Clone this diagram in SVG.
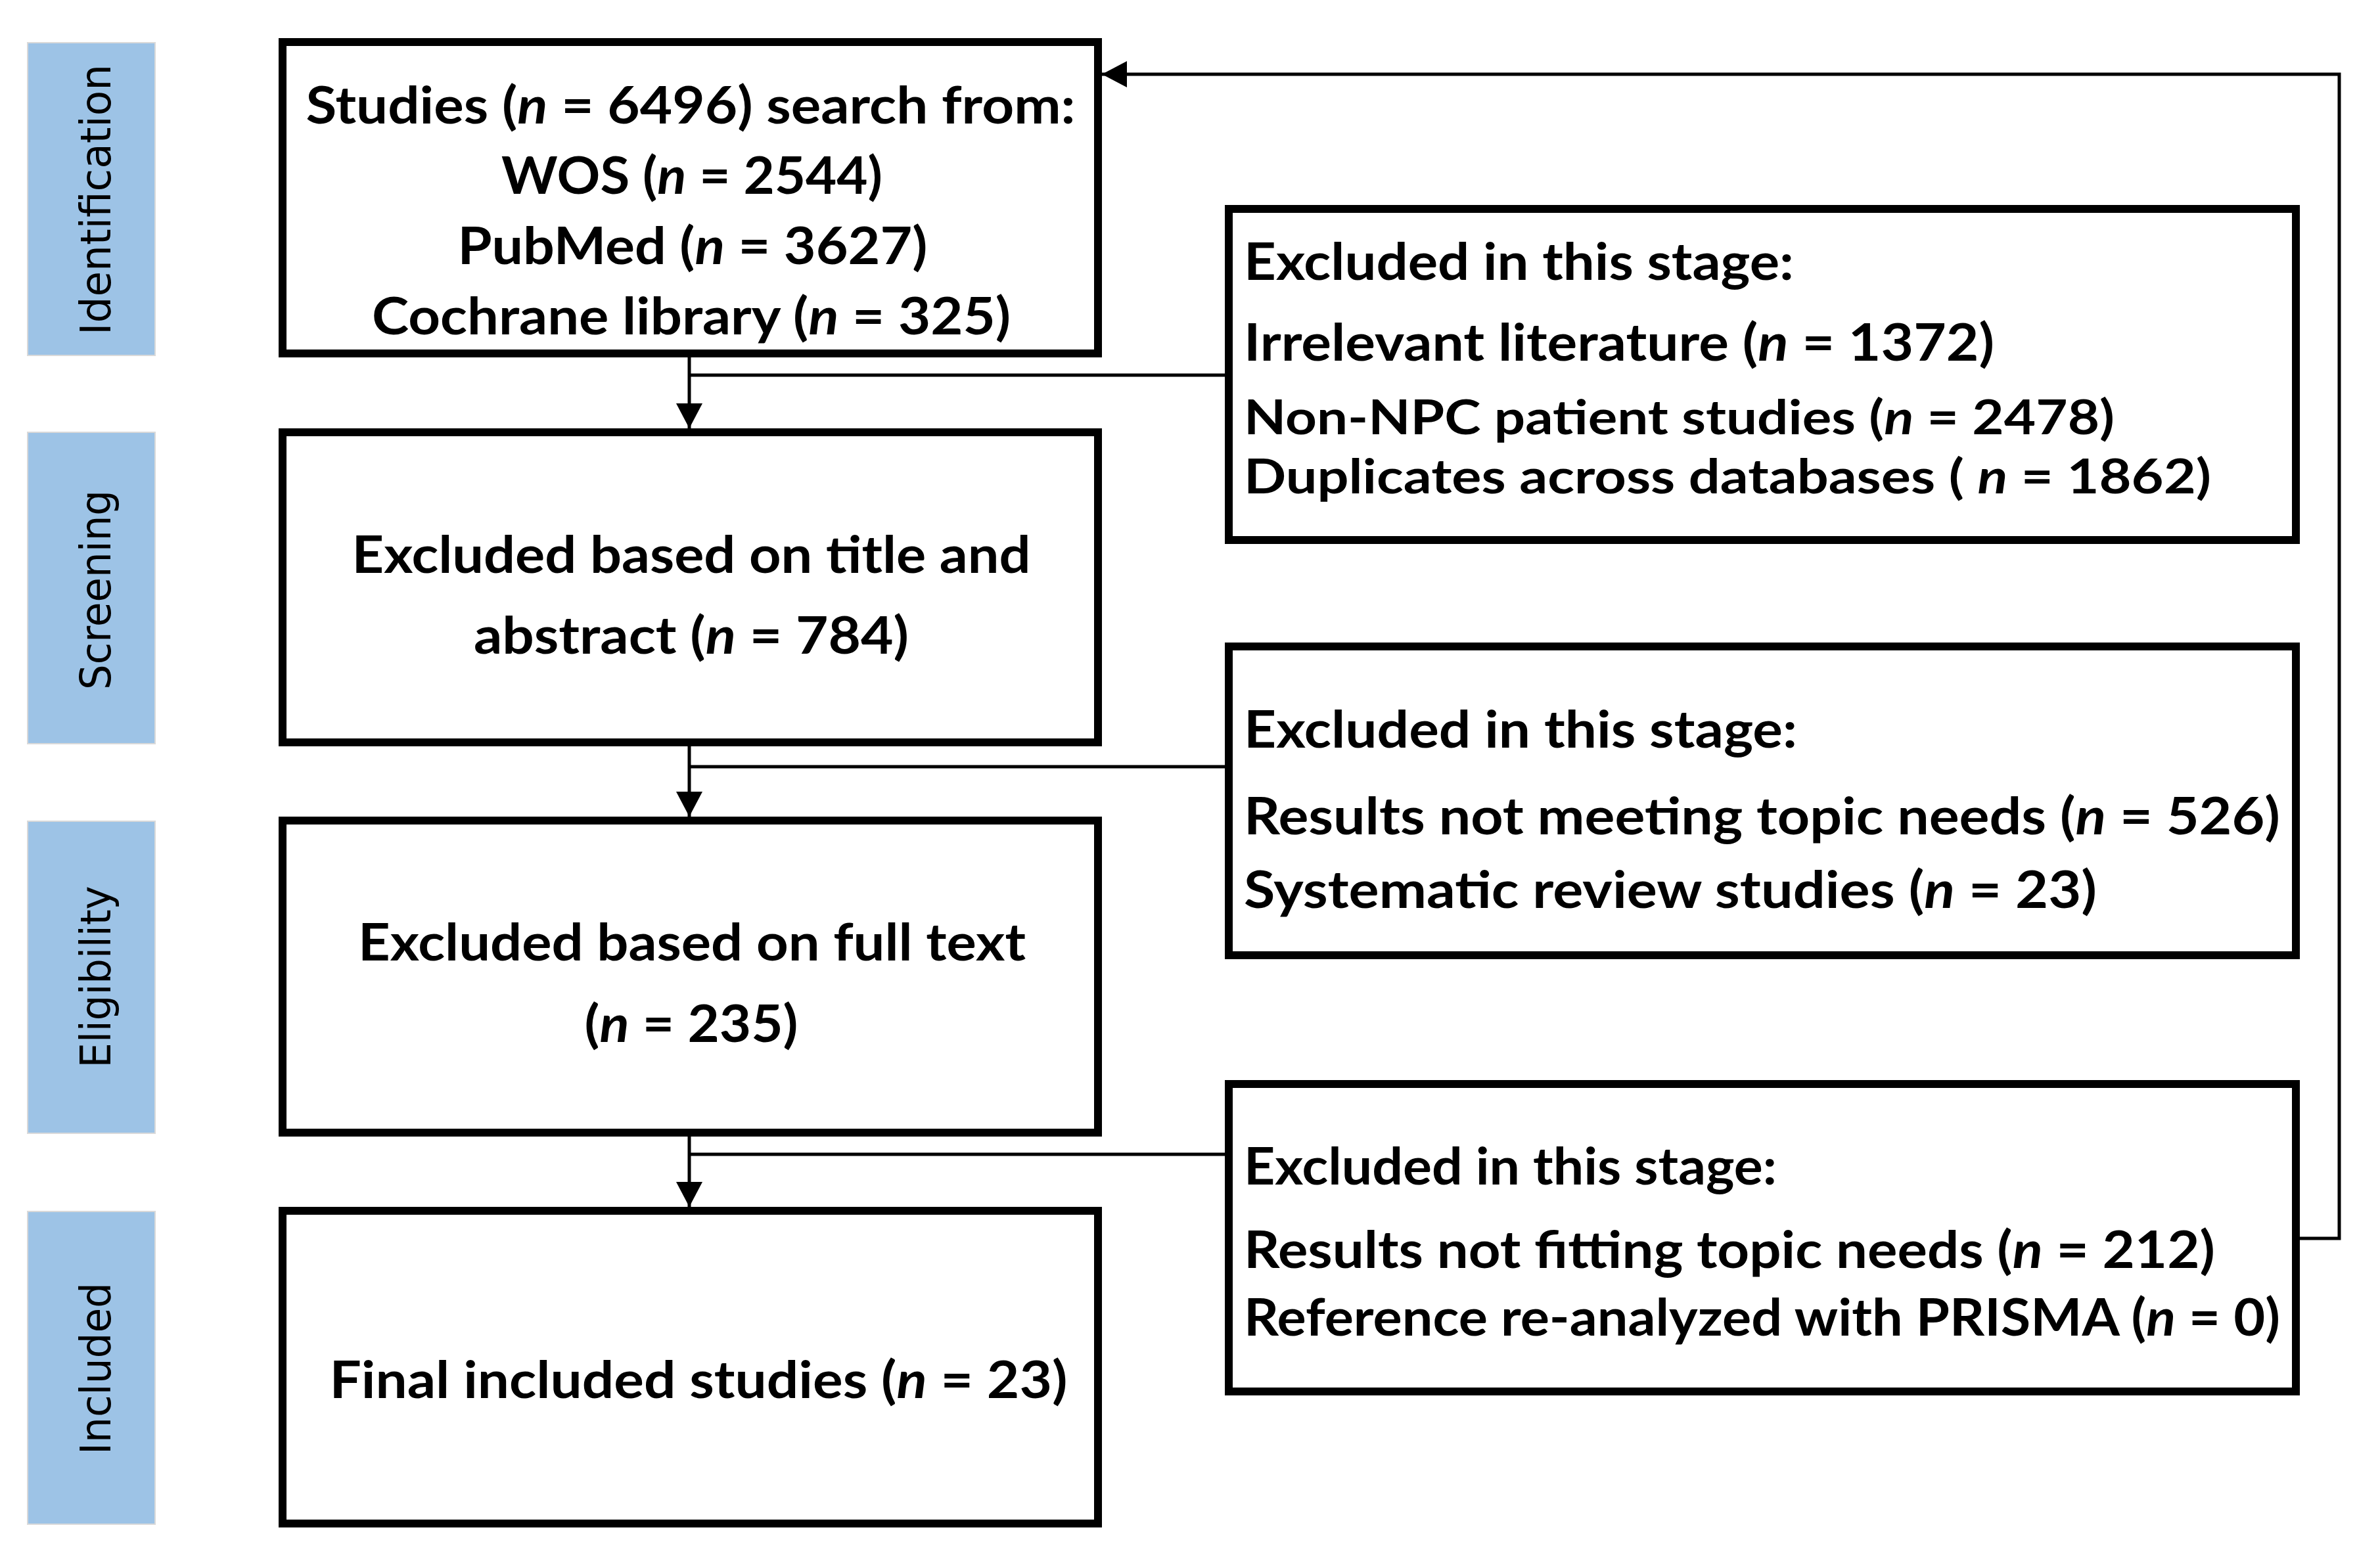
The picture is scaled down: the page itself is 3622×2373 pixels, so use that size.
<svg xmlns="http://www.w3.org/2000/svg" width="3622" height="2373" viewBox="0 0 3622 2373">
<style>
.bar{fill:#9DC3E6;stroke:#D9D9D9;stroke-width:2}
.lbl{font-family:"DejaVu Sans",Verdana,sans-serif;font-size:64px;fill:#000;text-anchor:middle}
.box{fill:#fff;stroke:#000;stroke-width:12}
.t{font-family:Lato,"Open Sans","Liberation Sans",sans-serif;font-weight:bold;font-size:79px;fill:#000}
.s{font-size:73px}
.c{text-anchor:middle}
.i{font-style:italic}
.ln{fill:none;stroke:#000;stroke-width:5}
</style>
<defs>
<marker id="arr" viewBox="0 0 38 40" refX="38" refY="20" markerWidth="38" markerHeight="40" orient="auto" markerUnits="userSpaceOnUse">
<path d="M0,0 L38,20 L0,40 z" fill="#000"/>
</marker>
</defs>
<rect width="3622" height="2373" fill="#fff"/>

<g id="stage-identification">
<rect class="bar" x="42" y="65" width="194" height="476"/>
<text class="lbl" transform="translate(168,304) rotate(-90)" textLength="412" lengthAdjust="spacingAndGlyphs">Identification</text>
</g>
<g id="stage-screening">
<rect class="bar" x="42" y="658" width="194" height="474"/>
<text class="lbl" transform="translate(168,898) rotate(-90)" textLength="304" lengthAdjust="spacingAndGlyphs">Screening</text>
</g>
<g id="stage-eligibility">
<rect class="bar" x="42" y="1250" width="194" height="475"/>
<text class="lbl" transform="translate(168,1487) rotate(-90)" textLength="277" lengthAdjust="spacingAndGlyphs">Eligibility</text>
</g>
<g id="stage-included">
<rect class="bar" x="42" y="1844" width="194" height="476"/>
<text class="lbl" transform="translate(168,2083) rotate(-90)" textLength="262" lengthAdjust="spacingAndGlyphs">Included</text>
</g>

<g id="node-search">
<rect class="box" x="430" y="64" width="1241" height="474"/>
<text class="t c" x="1051" y="188" textLength="1171" lengthAdjust="spacingAndGlyphs">Studies (<tspan class="i">n</tspan> = 6496) search from:</text>
<text class="t c" x="1053" y="295" textLength="580" lengthAdjust="spacingAndGlyphs">WOS (<tspan class="i">n</tspan> = 2544)</text>
<text class="t c" x="1054" y="402" textLength="715" lengthAdjust="spacingAndGlyphs">PubMed (<tspan class="i">n</tspan> = 3627)</text>
<text class="t c" x="1052" y="509" textLength="972" lengthAdjust="spacingAndGlyphs">Cochrane library (<tspan class="i">n</tspan> = 325)</text>
</g>

<g id="node-screening">
<rect class="box" x="430" y="658" width="1241" height="472"/>
<text class="t c" x="1052" y="872" textLength="1033" lengthAdjust="spacingAndGlyphs">Excluded based on title and</text>
<text class="t c" x="1052" y="995" textLength="662" lengthAdjust="spacingAndGlyphs">abstract (<tspan class="i">n</tspan> = 784)</text>
</g>

<g id="node-eligibility">
<rect class="box" x="430" y="1249" width="1241" height="475"/>
<text class="t c" x="1053" y="1462" textLength="1016" lengthAdjust="spacingAndGlyphs">Excluded based on full text</text>
<text class="t c" x="1052" y="1586" textLength="325" lengthAdjust="spacingAndGlyphs">(<tspan class="i">n</tspan> = 235)</text>
</g>

<g id="node-included">
<rect class="box" x="430" y="1843" width="1241" height="476"/>
<text class="t c" x="1063" y="2128" textLength="1123" lengthAdjust="spacingAndGlyphs">Final included studies (<tspan class="i">n</tspan> = 23)</text>
</g>

<g id="node-excluded-1">
<rect class="box" x="1870" y="318" width="1624" height="504"/>
<text class="t" x="1893" y="426" textLength="837" lengthAdjust="spacingAndGlyphs">Excluded in this stage:</text>
<text class="t" x="1893" y="549" textLength="1142" lengthAdjust="spacingAndGlyphs">Irrelevant literature (<tspan class="i">n</tspan> = 1372)</text>
<text class="t s" x="1893" y="661" textLength="1325" lengthAdjust="spacingAndGlyphs">Non-NPC patient studies (<tspan class="i">n</tspan> = 2478)</text>
<text class="t s" x="1893" y="751" textLength="1472" lengthAdjust="spacingAndGlyphs">Duplicates across databases ( <tspan class="i">n</tspan> = 1862)</text>
</g>

<g id="node-excluded-2">
<rect class="box" x="1870" y="984" width="1624" height="470"/>
<text class="t" x="1893" y="1138" textLength="842" lengthAdjust="spacingAndGlyphs">Excluded in this stage:</text>
<text class="t" x="1893" y="1270" textLength="1577" lengthAdjust="spacingAndGlyphs">Results not meeting topic needs (<tspan class="i">n</tspan> = 526)</text>
<text class="t" x="1893" y="1382" textLength="1298" lengthAdjust="spacingAndGlyphs">Systematic review studies (<tspan class="i">n</tspan> = 23)</text>
</g>

<g id="node-excluded-3">
<rect class="box" x="1870" y="1650" width="1624" height="468"/>
<text class="t" x="1893" y="1803" textLength="811" lengthAdjust="spacingAndGlyphs">Excluded in this stage:</text>
<text class="t" x="1893" y="1930" textLength="1478" lengthAdjust="spacingAndGlyphs">Results not fitting topic needs (<tspan class="i">n</tspan> = 212)</text>
<text class="t" x="1893" y="2033" textLength="1577" lengthAdjust="spacingAndGlyphs">Reference re-analyzed with PRISMA (<tspan class="i">n</tspan> = 0)</text>
</g>

<g id="connectors">
<path class="ln" d="M1049,544 V652" marker-end="url(#arr)"/>
<path class="ln" d="M1049,571 H1866"/>
<path class="ln" d="M1049,1136 V1243" marker-end="url(#arr)"/>
<path class="ln" d="M1049,1167 H1866"/>
<path class="ln" d="M1049,1730 V1837" marker-end="url(#arr)"/>
<path class="ln" d="M1049,1757 H1866"/>
<path class="ln" d="M3500,1885 H3560 V113 H1677" marker-end="url(#arr)"/>
</g>
</svg>
